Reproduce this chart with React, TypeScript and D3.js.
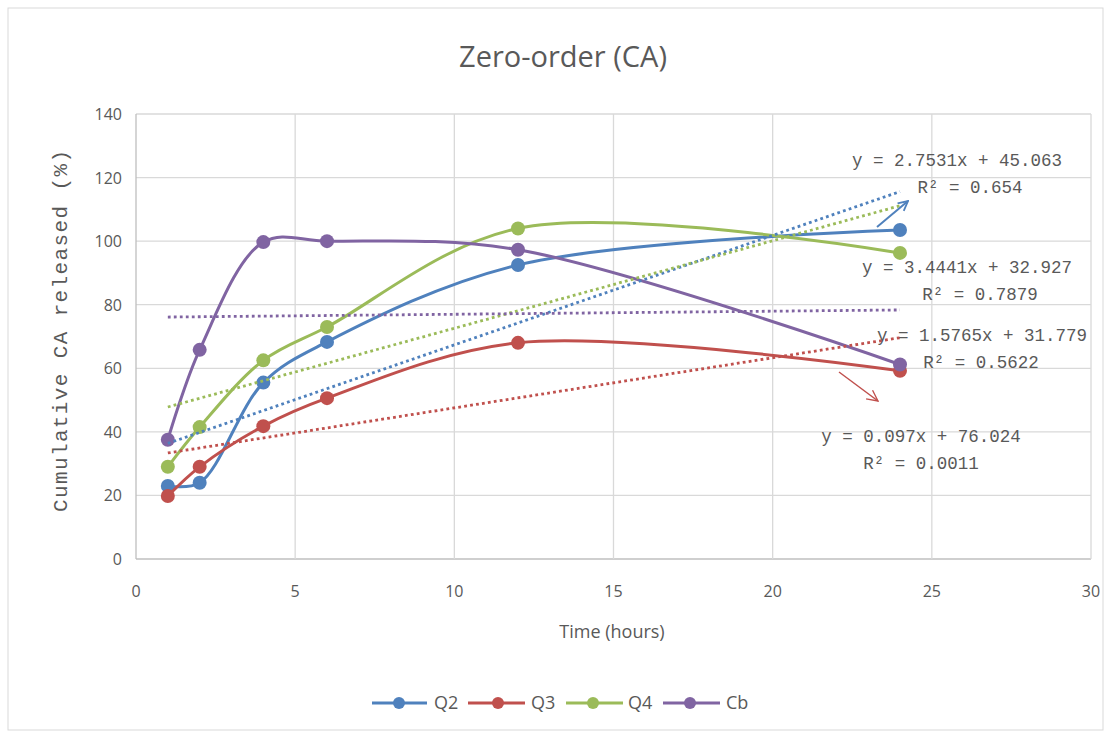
import React from "react";
import * as d3 from "d3";

const times = [1, 2, 4, 6, 12, 24];
const seriesNames = ["Q2", "Q3", "Q4", "Cb"];
const q2Values = [23, 24, 55.5, 68.3, 92.5, 103.5];
const q3Values = [19.8, 29, 41.8, 50.6, 68, 59.2];
const q4Values = [29, 41.5, 62.5, 73, 104, 96.3];
const cbValues = [37.5, 65.8, 99.7, 100, 97.3, 61.2];
const colors = ["#4F81BD", "#C0504D", "#9BBB59", "#8064A2"];
// trendline slope/intercept per series
const trendSlopes = [3.4441, 1.5765, 2.7531, 0.097];
const trendIntercepts = [32.927, 31.779, 45.063, 76.024];
const xTicks = [0, 5, 10, 15, 20, 25, 30];
const yTicks = [0, 20, 40, 60, 80, 100, 120, 140];

const eqLabels = [
  { eq: "y = 2.7531x + 45.063", r2: "R² = 0.654", x: 957, y: 160, rx: 970 },
  { eq: "y = 3.4441x + 32.927", r2: "R² = 0.7879", x: 967, y: 267, rx: 980 },
  { eq: "y = 1.5765x + 31.779", r2: "R² = 0.5622", x: 982, y: 335, rx: 981 },
  { eq: "y = 0.097x + 76.024", r2: "R² = 0.0011", x: 921, y: 436, rx: 921 },
];

export default function App() {
  const W = 1110, H = 734;
  const left = 136, right = 1091, top = 114, bottom = 559;
  const x = d3.scaleLinear().domain([0, 30]).range([left, right]);
  const y = d3.scaleLinear().domain([0, 140]).range([bottom, top]);
  const all = [q2Values, q3Values, q4Values, cbValues];
  const line = d3
    .line<[number, number]>()
    .x((d) => x(d[0]))
    .y((d) => y(d[1]))
    .curve(d3.curveCatmullRom.alpha(0.5));
  const gray = "#595959";
  const mono = "'Liberation Mono', 'DejaVu Sans Mono', monospace";
  const sans = "'Open Sans', 'Liberation Sans', sans-serif";
  const legendItems = [
    { x0: 372, x1: 427, m: 399, t: 434 },
    { x0: 468, x1: 525, m: 498, t: 531 },
    { x0: 566, x1: 623, m: 593, t: 628 },
    { x0: 663, x1: 720, m: 690, t: 726 },
  ];
  return (
    <svg
      width={W}
      height={H}
      style={{ position: "absolute", left: 0, top: 0, background: "#fff" }}
    >
      <defs>
        <marker id="arrB" viewBox="0 0 10 10" refX="9" refY="5" markerWidth="6" markerHeight="6" orient="auto">
          <path d="M1,1 L9,5 L1,9" fill="none" stroke="#4F81BD" strokeWidth="1.5" />
        </marker>
        <marker id="arrR" viewBox="0 0 10 10" refX="9" refY="5" markerWidth="9" markerHeight="9" orient="auto">
          <path d="M1,1 L9,5 L1,9" fill="none" stroke="#C0504D" strokeWidth="1" />
        </marker>
      </defs>
      <rect x={8} y={8} width={1095} height={722} fill="#fff" stroke="#d9d9d9" />
      <text x={563} y={67} textAnchor="middle" fontSize={29} fill={gray} fontFamily={sans}>
        Zero-order (CA)
      </text>
      {yTicks.map((t) => (
        <g key={"y" + t}>
          <line x1={left} x2={right} y1={y(t)} y2={y(t)} stroke={t === 0 ? "#bfbfbf" : "#d9d9d9"} strokeWidth={1.3} />
          <text x={122} y={y(t) + 6} textAnchor="end" fontSize={16} fill={gray} fontFamily={sans}>
            {t}
          </text>
        </g>
      ))}
      {xTicks.map((t) => (
        <g key={"x" + t}>
          <line x1={x(t)} x2={x(t)} y1={top} y2={bottom} stroke={t === 0 ? "#bfbfbf" : "#d9d9d9"} strokeWidth={1.3} />
          <text x={x(t)} y={597} textAnchor="middle" fontSize={16} fill={gray} fontFamily={sans}>
            {t}
          </text>
        </g>
      ))}
      <text x={612} y={638} textAnchor="middle" fontSize={18} fill={gray} fontFamily={sans}>
        Time (hours)
      </text>
      <text
        transform="translate(67,331) rotate(-90)"
        textAnchor="middle"
        fontSize={21}
        fill={gray}
        fontFamily={mono}
        textLength={362}
        lengthAdjust="spacing"
      >
        Cumulative CA released (%)
      </text>
      {all.map((vals, i) => {
        const pts = times.map((t, j) => [t, vals[j]] as [number, number]);
        return (
          <g key={"s" + i}>
            <path d={line(pts) || ""} fill="none" stroke={colors[i]} strokeWidth={3} />
            {pts.map((p, j) => (
              <circle key={j} cx={x(p[0])} cy={y(p[1])} r={7} fill={colors[i]} />
            ))}
          </g>
        );
      })}
      {all.map((_, i) => {
        const x0 = times[0], x1 = times[times.length - 1];
        return (
          <line
            key={"tr" + i}
            x1={x(x0)}
            y1={y(trendSlopes[i] * x0 + trendIntercepts[i])}
            x2={x(x1)}
            y2={y(trendSlopes[i] * x1 + trendIntercepts[i])}
            stroke={colors[i]}
            strokeWidth={2.8}
            strokeDasharray="2.8 3.2"
          />
        );
      })}
      {eqLabels.map((l, i) => (
        <g key={"eq" + i} fontFamily={mono} fontSize={17.5} fill={gray}>
          <text x={l.x} y={l.y + 6} textAnchor="middle">{l.eq}</text>
          <text x={l.rx} y={l.y + 33} textAnchor="middle">{l.r2}</text>
        </g>
      ))}
      <line x1={877} y1={227} x2={908} y2={201} stroke="#4F81BD" strokeWidth={2} markerEnd="url(#arrB)" />
      <line x1={839} y1={372} x2={878} y2={401} stroke="#C0504D" strokeWidth={1.5} markerEnd="url(#arrR)" />
      {legendItems.map((l, i) => (
        <g key={"lg" + i}>
          <line x1={l.x0} x2={l.x1} y1={703} y2={703} stroke={colors[i]} strokeWidth={3} />
          <circle cx={l.m} cy={703} r={6} fill={colors[i]} />
          <text x={l.t} y={709} fontSize={18} fill={gray} fontFamily={sans}>
            {seriesNames[i]}
          </text>
        </g>
      ))}
    </svg>
  );
}
